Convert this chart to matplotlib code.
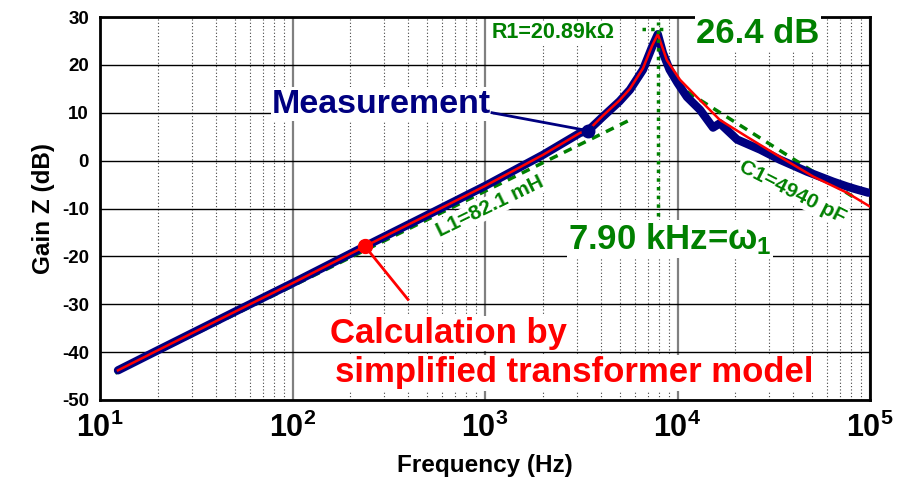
import matplotlib
matplotlib.use("Agg")
import matplotlib.pyplot as plt
from matplotlib.ticker import LogLocator, FixedLocator

FONT = 'Liberation Sans'
plt.rcParams['font.family'] = [FONT, 'DejaVu Sans']
plt.rcParams['font.weight'] = 'bold'
plt.rcParams['axes.labelweight'] = 'bold'
plt.rcParams['axes.unicode_minus'] = False
plt.rcParams['mathtext.fontset'] = 'custom'
plt.rcParams['mathtext.rm'] = FONT + ':bold'
plt.rcParams['mathtext.it'] = FONT + ':bold'
plt.rcParams['mathtext.bf'] = FONT + ':bold'

meas_f = [12.4, 20, 50, 100, 238, 500, 1000, 2000, 3120, 3430, 4100, 5000, 5660,
          6620, 7380, 7900, 8400, 9100, 10000, 11200, 13100, 15300, 16600, 20400,
          26900, 34000, 47100, 64300, 75900, 85000, 98000]
meas_db = [-43.8, -39.6, -31.6, -25.6, -17.9, -11.4, -5.3, 1.2, 5.8, 6.25, 9.2, 12.4, 14.8,
           19.0, 23.75, 26.4, 22.5, 19.0, 16.25, 13.3, 10.6, 6.9, 7.8, 4.4,
           2.3, 0.2, -2.3, -4.4, -5.4, -6.0, -6.7]

# calculation by simplified transformer model
calc_f = [12.4, 20, 50, 100, 238, 500, 1000, 2000, 3120, 3430, 4100, 5000, 5660,
          6620, 7380, 7900, 8800, 10300, 12600, 16600, 22900, 34000, 50600, 75900, 100000]
calc_db = [-43.8, -39.6, -31.6, -25.6, -17.9, -11.4, -5.3, 1.2, 5.8, 6.3, 9.4, 12.6, 15.0,
           19.3, 24.0, 26.4, 21.0, 16.9, 13.3, 8.5, 5.0, 0.8, -3.3, -6.7, -9.6]

# asymptotes
l1_f = [12.0, 5530]
l1_db = [-44.4, 8.3]
c1_f = [11200, 85000]
c1_db = [14.4, -8.0]

f_res = 7900
xticks = [10, 100, 1000, 10000, 100000]
xticklabels = [r'$10^{1}$', r'$10^{2}$', r'$10^{3}$', r'$10^{4}$', r'$10^{5}$']

fig = plt.figure(figsize=(9.01, 4.78), dpi=100)
ax = fig.add_axes([100 / 901, 1 - 400 / 478, 770 / 901, 383 / 478])

ax.set_xscale('log')
ax.set_xlim(10, 1e5)
ax.set_ylim(-50, 30)
ax.set_yticks(range(-50, 31, 10))
ax.xaxis.set_major_locator(FixedLocator(xticks))
ax.xaxis.set_minor_locator(LogLocator(base=10, subs=range(2, 10)))
ax.set_xticklabels(xticklabels, fontsize=22)
ax.xaxis.set_minor_formatter(plt.NullFormatter())
ax.tick_params(axis='y', labelsize=13.5, length=0, pad=8)
ax.tick_params(axis='x', which='both', length=0, pad=9)
for t in ax.get_yticklabels():
    t.set_fontweight('bold')

ax.set_axisbelow(True)
ax.yaxis.grid(True, color='black', lw=1)
ax.xaxis.grid(True, which='major', color='#808080', lw=1.6)
ax.xaxis.grid(True, which='minor', color='#444444', lw=0.8, linestyle=(0, (1, 2)))
for s in ax.spines.values():
    s.set_linewidth(2)

ax.set_xlabel('Frequency (Hz)', fontsize=17.5, labelpad=7)
ax.set_ylabel('Gain Z (dB)', fontsize=17.5, labelpad=5)

green = '#008000'
ax.plot(l1_f, l1_db, color=green, lw=2.5, ls=(0, (2.5, 2)), zorder=4)
ax.plot(c1_f, c1_db, color=green, lw=2.5, ls=(0, (2.5, 2)), zorder=4)
ax.plot(meas_f, meas_db, color='#000080', lw=6, solid_joinstyle='round', solid_capstyle='round', zorder=5)
ax.plot(calc_f, calc_db, color='red', lw=1.8, zorder=6)

# resonance markers
ax.plot([f_res, f_res], [-11.5, 29], color=green, lw=2.5, ls=(0, (1, 1.5)), zorder=7)
ax.plot([6550, 8500], [27.4, 27.4], color=green, lw=2.5, ls=(0, (1, 1.5)), zorder=7)

box = dict(facecolor='white', edgecolor='none', pad=1)
ax.text(2255, 26.7, 'R1=20.89k\u03a9', color=green, fontsize=15.5, ha='center', va='center', bbox=box, zorder=3)
ax.text(26200, 26.5, '26.4 dB', color=green, fontsize=25, ha='center', va='center', bbox=box, zorder=3)
ax.text(2700, -18.5, r'7.90 kHz=$\omega_1$', color=green, fontsize=25, ha='left', va='baseline', bbox=box, zorder=3)
ax.text(1062, -9.6, 'L1=82.1 mH', color=green, fontsize=15, rotation=26, ha='center', va='center',
        rotation_mode='anchor', bbox=box, zorder=3)
ax.text(39400, -6.5, 'C1=4940 pF', color=green, fontsize=15, rotation=-27, ha='center', va='center',
        rotation_mode='anchor', bbox=box, zorder=3)

ax.text(78.3, 10.0, 'Measurement', color='#000080', fontsize=24.5, ha='left', va='baseline', bbox=box, zorder=3)
ax.plot([1087, 3430], [10.0, 6.25], color='#000080', lw=2, zorder=8)
ax.plot([3430], [6.25], 'o', color='#000080', ms=9, zorder=8)

ax.text(156.6, -38.1, 'Calculation by', color='red', fontsize=25, ha='left', va='baseline', bbox=box, zorder=3)
ax.text(166, -46.3, 'simplified transformer model', color='red', fontsize=25, ha='left', va='baseline',
        bbox=box, zorder=3)
ax.plot([238, 398], [-17.9, -29.0], color='red', lw=2, zorder=8)
ax.plot([238], [-17.9], 'o', color='red', ms=10, zorder=8)

fig.savefig('out.png', dpi=100)
